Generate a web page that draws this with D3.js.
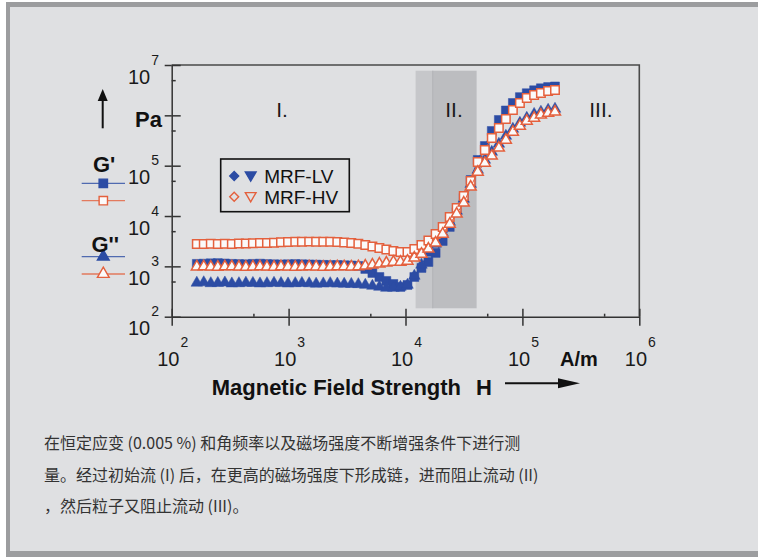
<!DOCTYPE html>
<html>
<head>
<meta charset="utf-8">
<script src="https://cdn.jsdelivr.net/npm/d3@7"></script>
<style>
  body { margin: 0; background: #fff; }
  svg { display: block; }
</style>
</head>
<body>
<svg id="chart" width="758" height="557"></svg>
<script>
// magnetic field strength H (A/m), one entry per measured point
var fieldH = [164, 188, 216, 248, 285, 327, 376, 431, 495, 569, 653, 750, 861, 989,
  1140, 1300, 1500, 1720, 1980, 2270, 2610, 2990, 3440, 3950, 4530, 5210, 5980, 6860,
  7880, 9050, 10400, 11900, 13700, 15700, 18100, 20800, 23900, 27400, 31500, 36100,
  41500, 47700, 54700, 62900, 72200, 82900, 95200, 109000, 126000, 144000, 166000, 190000];

// G' (storage modulus, Pa)
var gStoreLV = [1120, 1130, 1150, 1160, 1140, 1120, 1110, 1100, 1120, 1130, 1110, 1100, 1090,
  1100, 1110, 1100, 1090, 1080, 1070, 1060, 1060, 1050, 1040, 1020, 888, 739, 615, 513, 447,
  390, 427, 615, 929, 1220, 1850, 3190, 6070, 12000, 22800, 52000, 130000, 246000, 489000,
  809000, 1250000, 1760000, 2300000, 2750000, 3150000, 3450000, 3650000, 3750000];
var gStoreHV = [2790, 2780, 2800, 2790, 2810, 2790, 2830, 2850, 2870, 2900, 2920, 2960, 3000,
  3050, 3080, 3090, 3100, 3090, 3090, 3070, 3050, 2990, 2920, 2800, 2660, 2480, 2320, 2170,
  2020, 1930, 1930, 2220, 2660, 3270, 4410, 6070, 9570, 14500, 25000, 49700, 118000, 205000,
  355000, 561000, 847000, 1280000, 1760000, 2210000, 2540000, 2780000, 3050000, 3190000];

// G'' (loss modulus, Pa)
var gLossLV = [470, 480, 460, 465, 475, 455, 460, 470, 465, 455, 460, 468, 462, 455, 460, 465,
  458, 450, 455, 460, 452, 448, 445, 440, 427, 408, 390, 372, 372, 390, 427, 645, 1070, 1850,
  2790, 4610, 7620, 12600, 21800, 43100, 82200, 130000, 187000, 270000, 389000, 536000,
  705000, 886000, 1060000, 1170000, 1280000, 1340000];
var gLossHV = [980, 990, 975, 970, 985, 990, 975, 965, 980, 990, 975, 970, 985, 980, 970, 975,
  985, 980, 970, 975, 985, 990, 980, 995, 1020, 1070, 1120, 1170, 1220, 1220, 1280, 1470, 1760,
  2220, 2920, 4400, 6950, 11000, 18200, 37800, 75000, 113000, 156000, 225000, 324000, 467000,
  614000, 773000, 886000, 1020000, 1110000, 1170000];

var decadesX = [1e2, 1e3, 1e4, 1e5, 1e6];
var decadesY = [1e2, 1e3, 1e4, 1e5, 1e6, 1e7];
var labelsY = [1e2, 1e3, 1e4, 1e5, 1e7];   // 10^6 slot carries the "Pa" unit
var minorX = [5e2, 5e3, 5e4, 5e5];
var minorY = [5e2, 5e3, 5e4, 5e5, 5e6];

// shaded transition zone (II.)
var bandEdges = [12200, 17100, 40600];
var bandPa = [147, 7.7e6];

var regionLabels = ["I.", "II.", "III."];
var regionH = [880, 26000, 470000];

var caption = [
  "在恒定应变 (0.005 %) 和角频率以及磁场强度不断增强条件下进行测",
  "量。经过初始流 (I) 后，在更高的磁场强度下形成链，进而阻止流动 (II)",
  "，然后粒子又阻止流动 (III)。"
];

var blue = "#2c4ca4", orange = "#e4603d", axisCol = "#333";
var font = "'Liberation Sans', Arial, sans-serif";

var svg = d3.select("#chart"),
    W = +svg.attr("width"), H = +svg.attr("height");

// panel with grey border
svg.append("rect").attr("width", W).attr("height", H).attr("fill", "#fff");
svg.append("rect").attr("x", 6).attr("y", 2).attr("width", W - 6).attr("height", H - 2).attr("fill", "#9c9d9f");
svg.append("rect").attr("x", 10).attr("y", 7).attr("width", W - 10).attr("height", 544).attr("fill", "#dfe0e2");

var margin = {top: 65, left: 171.7},
    width = 467.6, height = 251.7;

var x = d3.scaleLog().domain([1e2, 1e6]).range([margin.left, margin.left + width]);
var y = d3.scaleLog().domain([1e2, 1e7]).range([margin.top + height, margin.top]);

// band
svg.append("rect")
    .attr("x", x(bandEdges[0])).attr("width", x(bandEdges[1]) - x(bandEdges[0]))
    .attr("y", y(bandPa[1])).attr("height", y(bandPa[0]) - y(bandPa[1]))
    .attr("fill", "#c6c7ca");
svg.append("rect")
    .attr("x", x(bandEdges[1])).attr("width", x(bandEdges[2]) - x(bandEdges[1]))
    .attr("y", y(bandPa[1])).attr("height", y(bandPa[0]) - y(bandPa[1]))
    .attr("fill", "#bcbdc0");
svg.append("line")
    .attr("x1", x(bandEdges[1])).attr("x2", x(bandEdges[1]))
    .attr("y1", y(bandPa[1])).attr("y2", y(bandPa[0]))
    .attr("stroke", "#b1b2b5").attr("stroke-width", 1);

// frame top / right
svg.append("path")
    .attr("d", "M" + x(1e2) + "," + y(1e7) + "H" + x(1e6) + "V" + y(1e2))
    .attr("fill", "none").attr("stroke", "#4a4a4a").attr("stroke-width", 1.6);

// x axis
var gx = svg.append("g").attr("transform", "translate(0," + (margin.top + height) + ")");
gx.call(d3.axisBottom(x).tickValues(decadesX).tickSize(9).tickSizeOuter(0).tickFormat(""));
gx.append("g").call(d3.axisBottom(x).tickValues(decadesX).tickSize(-8).tickFormat(""))
  .select(".domain").remove();
gx.append("g").call(d3.axisBottom(x).tickValues(minorX).tickSize(-3).tickFormat(""))
  .select(".domain").remove();
gx.selectAll("path, line").attr("stroke", axisCol).attr("stroke-width", 1.5);

// y axis
var gy = svg.append("g").attr("transform", "translate(" + margin.left + ",0)");
gy.call(d3.axisLeft(y).tickValues(decadesY).tickSize(7).tickSizeOuter(0).tickFormat(""));
gy.append("g").call(d3.axisLeft(y).tickValues(decadesY).tickSize(-9).tickFormat(""))
  .select(".domain").remove();
gy.append("g").call(d3.axisLeft(y).tickValues(minorY).tickSize(-4).tickFormat(""))
  .select(".domain").remove();
gy.selectAll("path, line").attr("stroke", axisCol).attr("stroke-width", 1.5);

// tick labels 10^n
function pow10(sel, d) {
  sel.append("tspan").attr("font-size", 20).text("10");
  sel.append("tspan").attr("font-size", 14).attr("dx", 1).attr("dy", -19)
    .text(Math.round(Math.log10(d)));
}
svg.append("g").selectAll("text").data(decadesX).enter().append("text")
    .attr("x", d => x(d) + 1).attr("y", margin.top + height + 49)
    .attr("text-anchor", "middle").attr("font-family", font).attr("fill", "#1a1a1a")
    .each(function(d) { pow10(d3.select(this), d); });
svg.append("g").selectAll("text").data(labelsY).enter().append("text")
    .attr("x", 159).attr("y", d => y(d) + 18.5)
    .attr("text-anchor", "end").attr("font-family", font).attr("fill", "#1a1a1a")
    .each(function(d) { pow10(d3.select(this), d); });

svg.append("text").attr("x", 560).attr("y", 366)
    .attr("font-family", font).attr("font-weight", "bold").attr("font-size", 20)
    .attr("fill", "#111").text("A/m");

// x title + arrow
svg.append("text").attr("x", 211.7).attr("y", 395)
    .attr("font-family", font).attr("font-weight", "bold").attr("font-size", 22)
    .attr("fill", "#111").text("Magnetic Field Strength");
svg.append("text").attr("x", 476).attr("y", 395)
    .attr("font-family", font).attr("font-weight", "bold").attr("font-size", 22)
    .attr("fill", "#111").text("H");
svg.append("line").attr("x1", 505).attr("x2", 562).attr("y1", 383.3).attr("y2", 383.3)
    .attr("stroke", "#111").attr("stroke-width", 2);
svg.append("path").attr("d", "M580,383.3L558,378.3L558,388.3Z").attr("fill", "#111");

// y unit + arrow
svg.append("line").attr("x1", 102.7).attr("x2", 102.7).attr("y1", 128.3).attr("y2", 99)
    .attr("stroke", "#111").attr("stroke-width", 2);
svg.append("path").attr("d", "M102.7,89L97.7,101L107.7,101Z").attr("fill", "#111");
svg.append("text").attr("x", 135).attr("y", 126.5)
    .attr("font-family", font).attr("font-weight", "bold").attr("font-size", 22)
    .attr("fill", "#111").text("Pa");

// region labels
svg.append("g").selectAll("text").data(regionLabels).enter().append("text")
    .attr("x", (d, i) => x(regionH[i])).attr("y", 116.5)
    .attr("text-anchor", "middle").attr("font-family", font).attr("font-size", 21)
    .attr("fill", "#1a1a1a").text(d => d);

// series
var series = [
  {vals: gStoreLV, color: blue, fill: blue, sym: d3.symbolSquare, size: 80},
  {vals: gLossLV, color: blue, fill: blue, sym: d3.symbolTriangle, size: 58},
  {vals: gStoreHV, color: orange, fill: "#fbfafa", sym: d3.symbolSquare, size: 72},
  {vals: gLossHV, color: orange, fill: "#fbfafa", sym: d3.symbolTriangle, size: 52}
];

var line = d3.line().x(d => x(d[0])).y(d => y(d[1]));

series.forEach(function(s) {
  var pts = fieldH.map((h, i) => [h, s.vals[i]]);
  svg.append("path").datum(pts).attr("d", line)
      .attr("fill", "none").attr("stroke", s.color).attr("stroke-width", 1);
  svg.append("g").selectAll("path").data(pts).enter().append("path")
      .attr("transform", d => "translate(" + x(d[0]) + "," + y(d[1]) + ")")
      .attr("d", d3.symbol().type(s.sym).size(s.size))
      .attr("fill", s.fill)
      .attr("stroke", s.color).attr("stroke-width", s.fill === blue ? 0.5 : 1.5);
});

// legend box
var lg = svg.append("g").attr("transform", "translate(220.7,159)");
lg.append("rect").attr("width", 128.6).attr("height", 52.7)
    .attr("fill", "none").attr("stroke", "#111").attr("stroke-width", 1.6);
var legendRows = [
  {label: "MRF-LV", color: blue, fill: blue},
  {label: "MRF-HV", color: orange, fill: "none"}
];
var row = lg.selectAll("g").data(legendRows).enter().append("g")
    .attr("transform", (d, i) => "translate(0," + (17 + i * 20.7) + ")");
row.append("path").attr("transform", "translate(13.5,0) rotate(45)")
    .attr("d", d3.symbol().type(d3.symbolSquare).size(40))
    .attr("fill", d => d.fill).attr("stroke", d => d.color).attr("stroke-width", 1.4);
row.append("path").attr("transform", "translate(30,-1) rotate(180)")
    .attr("d", d3.symbol().type(d3.symbolTriangle).size(50))
    .attr("fill", d => d.fill).attr("stroke", d => d.color).attr("stroke-width", 1.4);
row.append("text").attr("x", 43.5).attr("y", 7)
    .attr("font-family", font).attr("font-size", 19).attr("fill", "#111")
    .text(d => d.label);

// G' / G'' key at left
var keyRows = [
  {y: 183.3, color: blue, fill: blue, sym: d3.symbolSquare},
  {y: 200.7, color: orange, fill: "#fbfafa", sym: d3.symbolSquare},
  {y: 256.7, color: blue, fill: blue, sym: d3.symbolTriangle},
  {y: 274, color: orange, fill: "#fbfafa", sym: d3.symbolTriangle}
];
var kg = svg.append("g");
keyRows.forEach(function(k) {
  kg.append("line").attr("x1", 81.7).attr("x2", 125).attr("y1", k.y).attr("y2", k.y)
      .attr("stroke", k.color).attr("stroke-width", 1.3).attr("stroke-opacity", 0.8);
  kg.append("path").attr("transform", "translate(103.3," + k.y + ")")
      .attr("d", d3.symbol().type(k.sym).size(k.sym === d3.symbolSquare ? 70 : 60))
      .attr("fill", k.fill).attr("stroke", k.color).attr("stroke-width", 1.4);
});
kg.append("text").attr("x", 93).attr("y", 171.7)
    .attr("font-family", font).attr("font-weight", "bold").attr("font-size", 22)
    .attr("fill", "#111").text("G'");
kg.append("text").attr("x", 91.5).attr("y", 251.7)
    .attr("font-family", font).attr("font-weight", "bold").attr("font-size", 22)
    .attr("fill", "#111").text("G''");

// caption
svg.append("g").selectAll("text").data(caption).enter().append("text")
    .attr("x", 44).attr("y", (d, i) => 449 + i * 31.7)
    .attr("font-family", "'Noto Sans CJK SC', sans-serif").attr("font-size", 16)
    .attr("fill", "#333").text(d => d);
</script>
</body>
</html>
